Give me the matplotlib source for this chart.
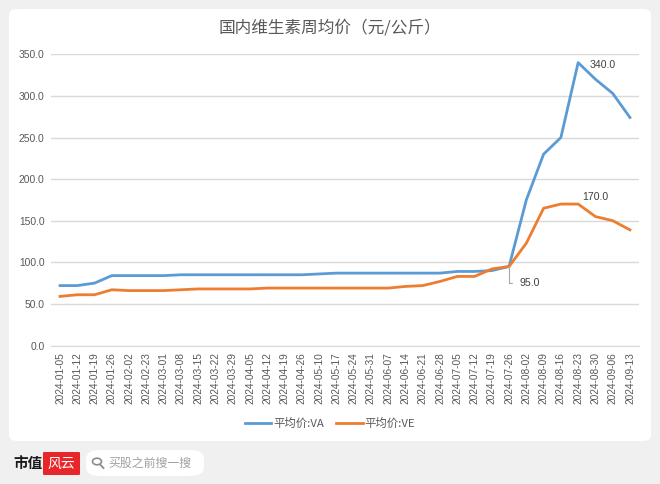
import matplotlib
matplotlib.use("Agg")
import matplotlib.pyplot as plt
from matplotlib.patches import FancyBboxPatch, Circle
from matplotlib.lines import Line2D

plt.rcParams['font.family'] = ['Noto Sans CJK SC', 'DejaVu Sans']

# data
dates = ['2024-01-05', '2024-01-12', '2024-01-19', '2024-01-26', '2024-02-02', '2024-02-23',
         '2024-03-01', '2024-03-08', '2024-03-15', '2024-03-22', '2024-03-29', '2024-04-05',
         '2024-04-12', '2024-04-19', '2024-04-26', '2024-05-10', '2024-05-17', '2024-05-24',
         '2024-05-31', '2024-06-07', '2024-06-14', '2024-06-21', '2024-06-28', '2024-07-05',
         '2024-07-12', '2024-07-19', '2024-07-26', '2024-08-02', '2024-08-09', '2024-08-16',
         '2024-08-23', '2024-08-30', '2024-09-06', '2024-09-13']
va = [72, 72, 75, 84, 84, 84, 84, 85, 85, 85, 85, 85, 85, 85, 85, 86, 87, 87,
      87, 87, 87, 87, 87, 89, 89, 90, 95, 175, 230, 250, 340, 320, 303, 274]
ve = [59, 61, 61, 67, 66, 66, 66, 67, 68, 68, 68, 68, 69, 69, 69, 69, 69, 69,
      69, 69, 71, 72, 77, 83, 83, 92, 95, 123, 165, 170, 170, 155, 150, 139]
yticks = [0, 50, 100, 150, 200, 250, 300, 350]
title = '国内维生素周均价（元/公斤）'
names = ['平均价:VA', '平均价:VE']

W, H = 660, 484
fig = plt.figure(figsize=(6.6, 4.84), dpi=100, facecolor='#f0f0f0')

def fx(px):
    return px / W

def fy(py):
    return 1 - py / H

# white card
card = FancyBboxPatch((fx(9), fy(441)), fx(642), 432 / H,
                      boxstyle='round,pad=0,rounding_size=0.012',
                      transform=fig.transFigure, fc='white', ec='none', zorder=-5)
fig.patches.append(card)

ax = fig.add_axes([fx(51.4), fy(345.5), fx(587.2), (345.5 - 54.3) / H])
ax.set_zorder(5)
ax.set_facecolor('none')
x = list(range(len(dates)))
ax.plot(x, va, color='#5b9bd5', lw=2.0, solid_joinstyle='round', label=names[0], zorder=3)
ax.plot(x, ve, color='#ed7d31', lw=2.0, solid_joinstyle='round', label=names[1], zorder=3)

ax.set_xlim(-0.5, len(dates) - 0.5)
ax.set_ylim(0, 350)
ax.set_yticks(yticks)
ax.set_yticklabels(['%.1f' % v for v in yticks], family='Liberation Sans',
                   fontsize=7.4, color='#595959')
ax.set_xticks(x)
ax.set_xticklabels(dates, rotation=90, family='Liberation Sans', fontsize=7.3, color='#595959')
ax.tick_params(length=0)
ax.tick_params(axis='y', pad=5)
ax.tick_params(axis='x', pad=5)
ax.grid(axis='y', color='#d9d9d9', lw=1)
ax.set_axisbelow(True)
for s in ['top', 'right', 'left']:
    ax.spines[s].set_visible(False)
ax.spines['bottom'].set_color('#d9d9d9')

# data labels
i_va = va.index(max(va))
ax.annotate('%.1f' % va[i_va], (i_va, va[i_va]), xytext=(11, -2), textcoords='offset pixels',
            ha='left', va='center', family='Liberation Sans', fontsize=7.6, color='#404040')
i_ve = ve.index(max(ve))
ax.annotate('%.1f' % ve[i_ve + 1], (i_ve + 1, ve[i_ve + 1]), xytext=(4, 7), textcoords='offset pixels',
            ha='left', va='center', family='Liberation Sans', fontsize=7.6, color='#404040')
ax.annotate('%.1f' % va[26], (26, va[26]), xytext=(10, -17), textcoords='offset pixels',
            ha='left', va='center', family='Liberation Sans', fontsize=7.6, color='#404040',
            arrowprops=dict(arrowstyle='-', color='#a6a6a6', lw=0.8, relpos=(0, 0.5),
                            connectionstyle='angle,angleA=0,angleB=90,rad=0',
                            shrinkA=3, shrinkB=0))

fig.text(0.5, fy(28), title, ha='center', va='center', fontsize=12, color='#595959')

fig.legend(loc='center', bbox_to_anchor=(fx(330), fy(423)), ncol=2, frameon=False,
           fontsize=8.2, handlelength=2.3, handletextpad=0.2, columnspacing=1.1,
           labelcolor='#595959')

# footer: logo and search box
fig.text(fx(13), fy(463), '市值', ha='left', va='center', fontsize=10.5,
         fontweight='bold', color='#1a1a1a')
logo = FancyBboxPatch((fx(43), fy(475)), fx(37), 23 / H, boxstyle='round,pad=0,rounding_size=0.002',
                      transform=fig.transFigure, fc='#e8262a', ec='none')
fig.patches.append(logo)
fig.text(fx(61.5), fy(463.5), '风云', ha='center', va='center', fontsize=10,
         color='white', style='italic')
box = FancyBboxPatch((fx(86), fy(476)), fx(118), 26 / H, boxstyle='round,pad=0,rounding_size=0.02',
                     transform=fig.transFigure, fc='white', ec='none')
fig.patches.append(box)
fig.patches.append(Circle((fx(97), fy(461.5)), 4.5 / W, transform=fig.transFigure,
                          fc='none', ec='#8c8c8c', lw=1.2))
fig.lines.append(Line2D([fx(100.5), fx(103.5)], [fy(465), fy(468)], transform=fig.transFigure,
                        color='#8c8c8c', lw=1.3))
fig.text(fx(108), fy(463), '买股之前搜一搜', ha='left', va='center', fontsize=8.6, color='#a0a0a0')

fig.savefig('out.png', dpi=100, facecolor=fig.get_facecolor())
